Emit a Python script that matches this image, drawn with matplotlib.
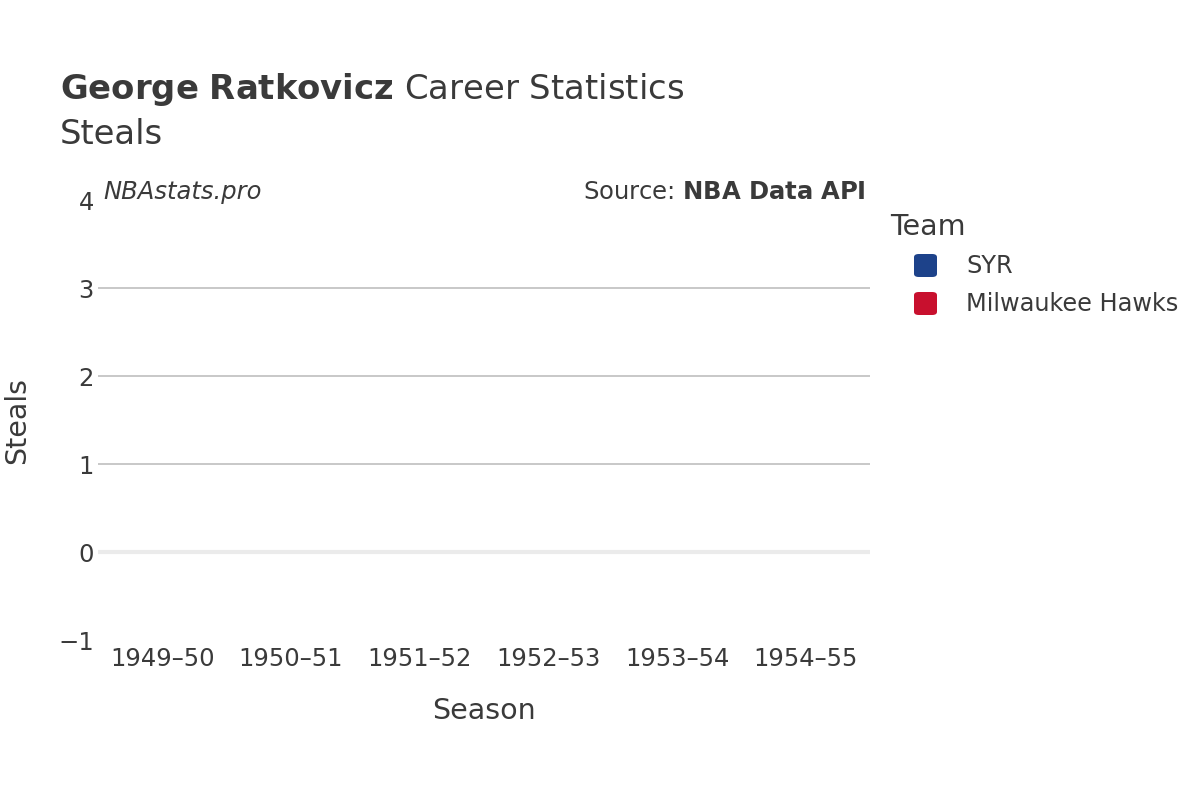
import matplotlib.pyplot as plt
from matplotlib.patches import FancyBboxPatch

# data: no steals were recorded in these seasons, so nothing is plotted
seasons = ["1949\u201350", "1950\u201351", "1951\u201352", "1952\u201353", "1953\u201354", "1954\u201355"]
teams = ["SYR", "Milwaukee Hawks"]
team_colors = ["#1d428a", "#c8102e"]
y_ticks = [-1, 0, 1, 2, 3, 4]

text_col = "#3a3a3a"
plt.rcParams['font.family'] = ['DejaVu Sans']

fig = plt.figure(figsize=(12, 8), dpi=100)
ax = fig.add_axes([98/1200, 1 - 640/800, 772/1200, 440/800])

ax.set_xlim(-0.5, len(seasons) - 0.5)
ax.set_ylim(-1, 4)
ax.set_xticks(range(len(seasons)))
ax.set_xticklabels(seasons)
ax.set_yticks(y_ticks)
ax.set_yticklabels(["\u22121" if v < 0 else str(v) for v in y_ticks])
ax.tick_params(length=0, labelsize=17.5, colors=text_col, pad=5)
ax.tick_params(axis='y', pad=3)
for s in ax.spines.values():
    s.set_visible(False)

for v in [1, 2, 3]:
    ax.axhline(v, color="#c4c4c4", lw=1.3, zorder=0)
ax.axhline(0, color="#ebebeb", lw=3, zorder=0)

ax.set_xlabel("Season", fontsize=20.5, color=text_col)
ax.set_ylabel("Steals", fontsize=20.5, color=text_col)
ax.xaxis.set_label_coords(0.5, -0.13)
ax.yaxis.set_label_coords(-0.087, 0.5)

fig.text(60/1200, 1 - 90/800, r"$\bf{George\ Ratkovicz}$ Career Statistics",
         fontsize=24.4, color=text_col, va='center')
fig.text(60/1200, 1 - 134/800, "Steals", fontsize=24.4, color=text_col, va='center')

fig.text(103/1200, 1 - 192/800, "NBAstats.pro", fontsize=17.5, style='italic',
         color=text_col, va='center')
fig.text(866/1200, 1 - 192/800, r"Source: $\bf{NBA\ Data\ API}$", fontsize=17.5,
         color=text_col, va='center', ha='right')

# legend drawn by hand to match the rounded swatches
fig.text(890/1200, 1 - 227/800, "Team", fontsize=20.5, color=text_col, va='center')
for i, (t, c) in enumerate(zip(teams, team_colors)):
    yc = 1 - (266 + 38 * i) / 800
    box = FancyBboxPatch((914/1200, yc - 11/800), 23/1200, 23/800,
                         boxstyle="round,pad=0,rounding_size=0.004",
                         transform=fig.transFigure, facecolor=c, edgecolor='none')
    fig.patches.append(box)
    fig.text(966/1200, yc, t, fontsize=17.3, color=text_col, va='center')

fig.savefig("out.png", dpi=100)
